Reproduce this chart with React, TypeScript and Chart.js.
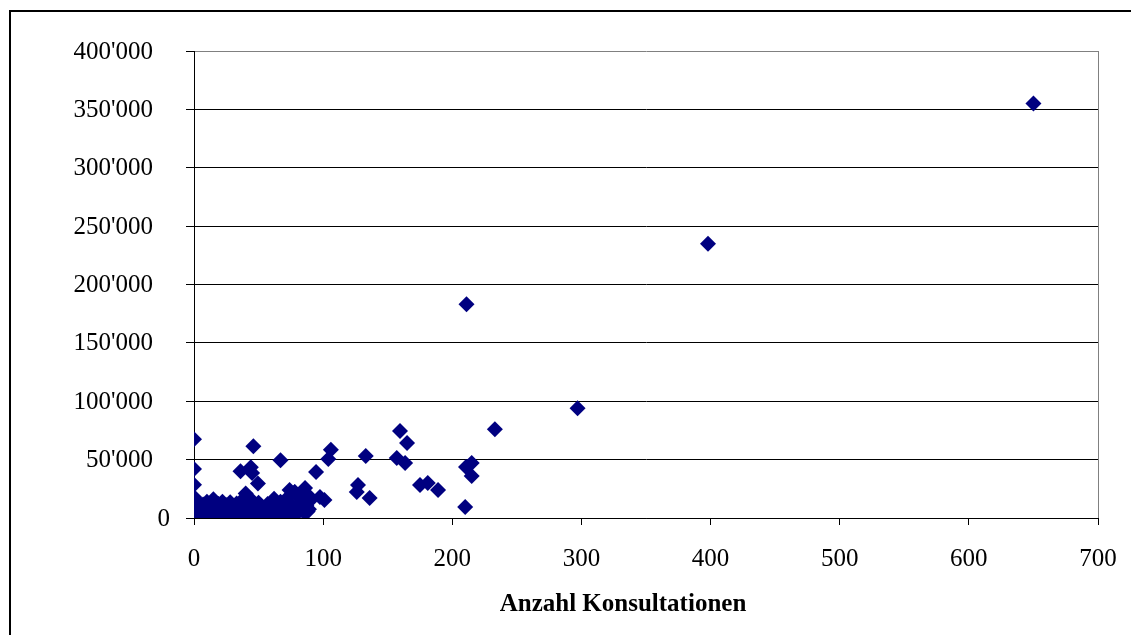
import React, { useEffect, useRef } from "react";
import { Chart, registerables } from "chart.js";

Chart.register(...registerables);

// Anzahl Konsultationen (x) and Kosten (y) per Leistungserbringer
const consultations: number[] = [
  0, 0, 0, 0, 0, 0, 0, 0, 0, 0, 0, 0, 0, 0,
  1, 1, 1, 1, 2, 2, 2, 3, 3, 3, 4, 4, 5, 5, 5, 6, 6, 7, 7, 8, 8, 9, 9,
  10, 10, 10, 11, 11, 12, 12, 13, 13, 14, 14, 15, 15, 16, 16, 17, 18, 18, 19,
  20, 20, 21, 22, 22, 23, 24, 25, 25, 26, 27, 27, 28, 29, 30, 30, 31, 32, 33,
  34, 35, 35, 36, 37, 38, 38, 39, 40, 40, 41, 42, 43, 44, 44, 45, 46, 47, 48,
  49, 50, 50, 51, 52, 53, 54, 55, 56, 57, 58, 59, 60, 61, 62, 62, 63, 64, 65,
  66, 67, 68, 69, 70, 71, 72, 73, 73, 75, 76, 77, 78, 79, 80, 81, 82, 83, 84,
  85, 86, 87, 88, 88, 89, 90,
  36, 44, 46, 45, 49.5, 67, 74, 78, 86, 94.5, 97.5, 101, 84,
  104, 106, 127, 126, 136, 133, 157, 159.5, 163.5, 165, 175, 181, 189,
  210, 210.6, 215, 215, 211, 233, 297, 398, 650,
];

const costs: number[] = [
  500, 1500, 2800, 4200, 5600, 7000, 8500, 10000, 12000, 14500, 18000, 28500, 42000, 67500,
  800, 3500, 6000, 9000, 1200, 4800, 11000, 300, 2500, 7500, 5200, 13000, 900, 3800, 9500, 1900, 6400, 400, 11500, 3000, 8000, 1500, 5500,
  700, 14000, 3500, 9800, 2200, 6000, 500, 12500, 4000, 1800, 8200, 16000, 3000, 600, 10500, 5200, 2000, 7600, 12000,
  900, 4500, 9000, 2500, 14000, 6300, 1200, 11000, 3600, 8000, 600, 5000, 13500, 2800, 9500, 1000, 6500, 3800, 12500,
  1800, 8000, 4200, 600, 10500, 2800, 16000, 5800, 1400, 21000, 8800, 3300, 12000, 700, 6200, 15000, 2500, 9500, 4800,
  1200, 13000, 7000, 3000, 10500, 5500, 1800, 8500, 3600, 12000, 6000, 2200, 9800, 4500, 16500, 1500, 7200, 11500, 3200,
  5800, 14000, 2000, 9000, 6500, 4000, 12500, 18000, 7800, 3000, 10500, 6000, 22000, 8500, 4200, 12000, 17000, 6800, 9500,
  14500, 4500, 10500, 20000, 5500, 7500, 15000,
  40000, 43500, 61500, 38500, 29500, 49500, 24000, 22300, 25700, 39300, 18000, 15400, 6800,
  50500, 58500, 28300, 22300, 17100, 53000, 51400, 74500, 47100, 64200, 28300, 30000, 24000,
  9400, 43700, 47100, 36000, 183000, 76000, 94000, 235000, 355000,
];

const xTicks: number[] = [0, 100, 200, 300, 400, 500, 600, 700];
const yTicks: number[] = [0, 50000, 100000, 150000, 200000, 250000, 300000, 350000, 400000];
const xTitle = "Anzahl Konsultationen";

const FONT = "'Liberation Serif', 'Times New Roman', serif";
const FONT_SIZE = 25;

const formatSwiss = (v: number): string =>
  String(Math.round(v)).replace(/\B(?=(\d{3})+(?!\d))/g, "'");

// Outer frame, y tick labels and bold axis caption
const decorations = {
  id: "decorations",
  beforeDraw(chart: any) {
    const { ctx } = chart;
    ctx.save();
    ctx.fillStyle = "#ffffff";
    ctx.fillRect(0, 0, chart.width, chart.height);
    ctx.fillStyle = "#000000";
    ctx.fillRect(9, 10, 2, chart.height - 10);
    ctx.fillRect(9, 10, chart.width - 9, 2);
    ctx.restore();
  },
  afterDraw(chart: any) {
    const { ctx } = chart;
    const y = chart.scales.y;
    ctx.save();
    ctx.fillStyle = "#000000";
    ctx.font = `${FONT_SIZE}px ${FONT}`;
    ctx.textBaseline = "middle";
    ctx.textAlign = "right";
    for (const t of y.ticks) {
      const py = y.getPixelForValue(t.value);
      const right = t.value === 0 ? 170 : 153;
      ctx.fillText(formatSwiss(t.value), right, py + 1);
    }
    ctx.font = `bold ${FONT_SIZE}px ${FONT}`;
    ctx.textAlign = "center";
    ctx.fillText(xTitle, 623, 605);
    ctx.restore();
  },
};

const zeroScalePadding = (s: any) => {
  s.paddingLeft = 0;
  s.paddingRight = 0;
  s.paddingTop = 0;
  s.paddingBottom = 0;
};

export default function App() {
  const canvasRef = useRef<HTMLCanvasElement | null>(null);

  useEffect(() => {
    document.body.style.margin = "0";
    const canvas = canvasRef.current;
    if (!canvas) return;
    const points = consultations.map((x, i) => ({ x, y: costs[i] }));
    const chart = new Chart(canvas, {
      type: "scatter",
      data: {
        datasets: [
          {
            data: points,
            pointStyle: "rectRot",
            pointRadius: 8,
            pointHoverRadius: 8,
            backgroundColor: "#000080",
            borderColor: "#000080",
            borderWidth: 0,
          },
        ],
      },
      options: {
        animation: false,
        responsive: false,
        devicePixelRatio: 1,
        layout: { padding: { left: 0, top: 51, right: 33, bottom: 0 } },
        plugins: {
          legend: { display: false },
          tooltip: { enabled: false },
        },
        scales: {
          x: {
            type: "linear",
            min: 0,
            max: 700,
            afterBuildTicks: (s: any) => {
              s.ticks = xTicks.map((v) => ({ value: v }));
            },
            afterFit: (s: any) => {
              s.height = 117;
              zeroScalePadding(s);
            },
            ticks: {
              color: "#000000",
              font: { family: FONT, size: FONT_SIZE },
              padding: 19,
              maxRotation: 0,
              autoSkip: false,
              callback: (v: any) => String(v),
            },
            grid: {
              drawOnChartArea: true,
              color: (c: any) => (c.tick && c.tick.value === 700 ? "#808080" : "rgba(0,0,0,0)"),
              tickColor: "#000000",
              tickLength: 7,
              lineWidth: 1,
            },
            border: { display: true, color: "#000000", width: 1 },
          },
          y: {
            type: "linear",
            min: 0,
            max: 400000,
            afterBuildTicks: (s: any) => {
              s.ticks = yTicks.map((v) => ({ value: v }));
            },
            afterFit: (s: any) => {
              s.width = 194;
              zeroScalePadding(s);
            },
            ticks: {
              display: false,
              callback: (v: any) => formatSwiss(Number(v)),
            },
            grid: {
              color: (c: any) => (c.tick && c.tick.value === 400000 ? "#808080" : "#000000"),
              tickColor: "#000000",
              tickLength: 8,
              lineWidth: 1,
            },
            border: { display: true, color: "#000000", width: 1 },
          },
        },
      },
      plugins: [decorations],
    } as any);
    return () => chart.destroy();
  }, []);

  return (
    <div style={{ width: 1131, height: 635 }}>
      <canvas ref={canvasRef} width={1131} height={635} style={{ display: "block" }} />
    </div>
  );
}
